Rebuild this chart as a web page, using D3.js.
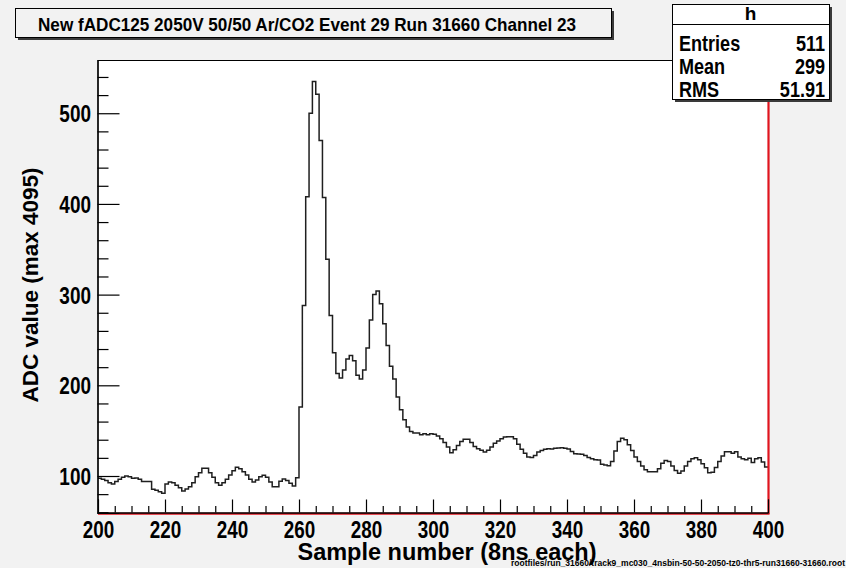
<!DOCTYPE html>
<html>
<head>
<meta charset="utf-8">
<script src="https://cdn.jsdelivr.net/npm/d3@7"></script>
<style>
  html, body { margin: 0; padding: 0; background: #f2f2f2; }
  svg { display: block; }
  text { font-family: "Liberation Sans", Arial, Helvetica, sans-serif; font-weight: bold; fill: #000; }
</style>
</head>
<body>
<svg id="chart" width="846" height="568"></svg>
<script>
// ---- data ----
const firstSample = 200;            // sample number of the first bin (bins are 1 sample wide)
const adcValues = [
  97.4, 96.3, 94.9, 92.6, 91.2, 93.8, 96.3, 98.5, 100, 99.3,
  97.4, 97.8, 96.3, 93.8, 93.8, 93.8, 85.3, 84.2, 82.7, 80.9,
  91.2, 93.4, 92.6, 89.7, 87.1, 83.5, 85.7, 88.2, 92.6, 99.3,
  103.7, 108.5, 108.5, 103.7, 98.5, 92.6, 89.7, 92.6, 96.3, 101.1,
  105.9, 109.6, 108.1, 104.8, 101.1, 96.3, 93.4, 95.6, 99.3, 100.7,
  98.5, 93.4, 88.2, 88.2, 94.1, 96.7, 94.9, 91.9, 89, 98,
  176, 288, 408, 500, 535, 521, 470, 407, 339, 277,
  236, 213, 208, 217, 229, 233, 227, 211, 207, 217,
  241, 272, 300, 304, 290, 268, 244, 221, 207, 187,
  173, 162, 154, 149, 147.5, 147.5, 145.5, 146.5, 145.5, 146.5,
  146, 144, 141, 137, 132, 125.5, 129, 133.5, 138, 140.5,
  140.5, 137, 132.5, 130, 128.5, 126.5, 128.5, 132, 136, 138.5,
  141, 143, 143.3, 143.3, 141, 135, 129.5, 125, 121, 120.5,
  122.5, 126.5, 128, 129.5, 130, 129.8, 130.5, 131, 131.2, 130.5,
  129.7, 127, 124.5, 124.2, 124, 122.5, 120.5, 119, 118, 117.6,
  113, 112, 111.4, 116, 127.5, 138, 141.5, 140, 134.5, 128,
  121, 116, 111, 107, 104.7, 104.7, 104.7, 108, 114, 117,
  116, 111, 106, 103, 105.5, 111, 116, 119, 120.2, 118,
  113.5, 109, 103.5, 104, 109.5, 116, 122, 126.8, 126.8, 125,
  126.8, 121, 119, 118, 119.5, 115, 119, 120.2, 115.5, 110
];
const xDomain = [200, 400];
const yDomain = [59.2, 558.7];
const xMajorTicks = [200, 220, 240, 260, 280, 300, 320, 340, 360, 380, 400];
const yMajorTicks = [100, 200, 300, 400, 500];
const xMinorStep = 5;
const yMinorStep = 20;

const titleText = "New fADC125 2050V 50/50 Ar/CO2 Event 29 Run 31660 Channel 23";
const statsName = "h";
const statsLabels = ["Entries", "Mean", "RMS"];
const statsValues = ["511", "299", "51.91"];
const xTitle = "Sample number (8ns each)";
const yTitle = "ADC value (max 4095)";
const fileLabel = "rootfiles/run_31660/track9_mc030_4nsbin-50-50-2050-tz0-thr5-run31660-31660.root";

// ---- layout ----
const W = 846, H = 568;
const frame = { left: 98, right: 768, top: 60, bottom: 513 };

// narrow a text element horizontally, keeping its height
function squeeze(sel, factor) {
  sel.each(function () {
    const len = this.getComputedTextLength();
    d3.select(this).attr("textLength", len * factor).attr("lengthAdjust", "spacingAndGlyphs");
  });
}

const svg = d3.select("#chart");

svg.append("rect").attr("x", 0).attr("y", 0).attr("width", W).attr("height", H).attr("fill", "#f2f2f2");

// plot frame
svg.append("rect")
  .attr("x", frame.left).attr("y", frame.top)
  .attr("width", frame.right - frame.left).attr("height", frame.bottom - frame.top)
  .attr("fill", "#ffffff");

const x = d3.scaleLinear().domain(xDomain).range([frame.left, frame.right]);
const y = d3.scaleLinear().domain(yDomain).range([frame.bottom, frame.top]);

// histogram outline (step line)
const bins = adcValues.map((v, i) => ({ s: firstSample + i, v }));
bins.push({ s: firstSample + adcValues.length, v: adcValues[adcValues.length - 1] });
const step = d3.line().x(d => x(d.s)).y(d => y(d.v)).curve(d3.curveStepAfter);
svg.append("path")
  .datum(bins)
  .attr("d", step)
  .attr("fill", "none")
  .attr("stroke", "#1f1f1f")
  .attr("stroke-width", 1.5);

// frame lines
svg.append("line").attr("x1", frame.left).attr("x2", frame.right)
  .attr("y1", frame.top + 0.5).attr("y2", frame.top + 0.5)
  .attr("stroke", "#000").attr("stroke-width", 1);
svg.append("line").attr("x1", frame.right + 0.5).attr("x2", frame.right + 0.5)
  .attr("y1", frame.top).attr("y2", frame.bottom + 1)
  .attr("stroke", "#e0141e").attr("stroke-width", 2.2);
svg.append("line").attr("x1", frame.left).attr("x2", frame.right + 1.5)
  .attr("y1", frame.bottom + 0.8).attr("y2", frame.bottom + 0.8)
  .attr("stroke", "#e0141e").attr("stroke-width", 2);

// x axis
const xMinor = d3.range(xDomain[0], xDomain[1] + 0.001, xMinorStep).filter(t => !xMajorTicks.includes(t));
const xAxisMajor = d3.axisBottom(x).tickValues(xMajorTicks).tickSize(-13).tickFormat(d3.format("d"));
const xAxisMinor = d3.axisBottom(x).tickValues(xMinor).tickSize(-6.5).tickFormat("");
const gxMinor = svg.append("g").attr("transform", `translate(0,${frame.bottom - 0.5})`).call(xAxisMinor);
const gx = svg.append("g").attr("transform", `translate(0,${frame.bottom - 0.5})`).call(xAxisMajor);
[gx, gxMinor].forEach(g => {
  g.select(".domain").attr("stroke", "#000").attr("stroke-width", 1);
  g.selectAll(".tick line").attr("stroke", "#000").attr("stroke-width", 1.2);
});
gx.selectAll(".tick text")
  .attr("font-size", 23).attr("font-family", "Liberation Sans, Arial, sans-serif")
  .attr("font-weight", "bold").attr("fill", "#000")
  .attr("y", 8.5).attr("dy", "0.72em")
  .call(squeeze, 0.82);

// y axis
const yMinor = d3.range(60, 560, yMinorStep).filter(t => !yMajorTicks.includes(t) && t >= yDomain[0] && t <= yDomain[1]);
const yAxisMajor = d3.axisLeft(y).tickValues(yMajorTicks).tickSize(-22).tickFormat(d3.format("d"));
const yAxisMinor = d3.axisLeft(y).tickValues(yMinor).tickSize(-11).tickFormat("");
const gyMinor = svg.append("g").attr("transform", `translate(${frame.left - 0.5},0)`).call(yAxisMinor);
const gy = svg.append("g").attr("transform", `translate(${frame.left - 0.5},0)`).call(yAxisMajor);
[gy, gyMinor].forEach(g => {
  g.select(".domain").attr("stroke", "#000").attr("stroke-width", 1.2);
  g.selectAll(".tick line").attr("stroke", "#000").attr("stroke-width", 1.2);
});
gy.selectAll(".tick text")
  .attr("font-size", 24).attr("font-family", "Liberation Sans, Arial, sans-serif")
  .attr("font-weight", "bold").attr("fill", "#000")
  .attr("x", -6.5).attr("dy", "0.36em")
  .call(squeeze, 0.79);

// axis titles
svg.append("text")
  .attr("x", 447).attr("y", 560)
  .attr("text-anchor", "middle").attr("font-size", 23.5)
  .text(xTitle);
svg.append("text")
  .attr("transform", `translate(38,285) rotate(-90)`)
  .attr("text-anchor", "middle").attr("font-size", 22.5)
  .text(yTitle);

// file path label
svg.append("text")
  .attr("x", 845).attr("y", 566)
  .attr("text-anchor", "end").attr("font-size", 8.2)
  .attr("font-weight", "normal")
  .attr("textLength", 334).attr("lengthAdjust", "spacingAndGlyphs")
  .text(fileLabel);

// title pave
const tb = { x: 15, y: 8, w: 596, h: 29 };
svg.append("rect").attr("x", tb.x + 3).attr("y", tb.y + 3).attr("width", tb.w).attr("height", tb.h).attr("fill", "#3a3a3a");
svg.append("rect").attr("x", tb.x + 0.5).attr("y", tb.y + 0.5).attr("width", tb.w).attr("height", tb.h)
  .attr("fill", "#f2f2f2").attr("stroke", "#000").attr("stroke-width", 1);
svg.append("text")
  .attr("x", 307).attr("y", tb.y + 22.5)
  .attr("text-anchor", "middle").attr("font-size", 19)
  .attr("textLength", 538).attr("lengthAdjust", "spacingAndGlyphs")
  .text(titleText);

// statistics box
const sb = { x: 672, y: 4, w: 157, h: 95, head: 20 };
svg.append("rect").attr("x", sb.x + 3).attr("y", sb.y + 3).attr("width", sb.w).attr("height", sb.h).attr("fill", "#3a3a3a");
svg.append("rect").attr("x", sb.x + 0.5).attr("y", sb.y + 0.5).attr("width", sb.w).attr("height", sb.h)
  .attr("fill", "#ffffff").attr("stroke", "#000").attr("stroke-width", 1);
svg.append("line").attr("x1", sb.x).attr("x2", sb.x + sb.w)
  .attr("y1", sb.y + sb.head + 0.5).attr("y2", sb.y + sb.head + 0.5)
  .attr("stroke", "#000").attr("stroke-width", 1);
svg.append("text")
  .attr("x", sb.x + sb.w / 2).attr("y", sb.y + 16)
  .attr("text-anchor", "middle").attr("font-size", 19)
  .text(statsName);
const rowY = d3.scaleBand().domain(statsLabels).range([sb.y + sb.head + 8, sb.y + sb.h + 2]);
statsLabels.forEach((lab, i) => {
  const cy = rowY(lab) + rowY.bandwidth() / 2;
  svg.append("text").attr("x", sb.x + 7).attr("y", cy).attr("dy", "0.36em")
    .attr("font-size", 22).text(lab).call(squeeze, 0.82);
  svg.append("text").attr("x", sb.x + sb.w - 4).attr("y", cy).attr("dy", "0.36em")
    .attr("text-anchor", "end").attr("font-size", 22).text(statsValues[i]).call(squeeze, 0.82);
});
</script>
</body>
</html>
